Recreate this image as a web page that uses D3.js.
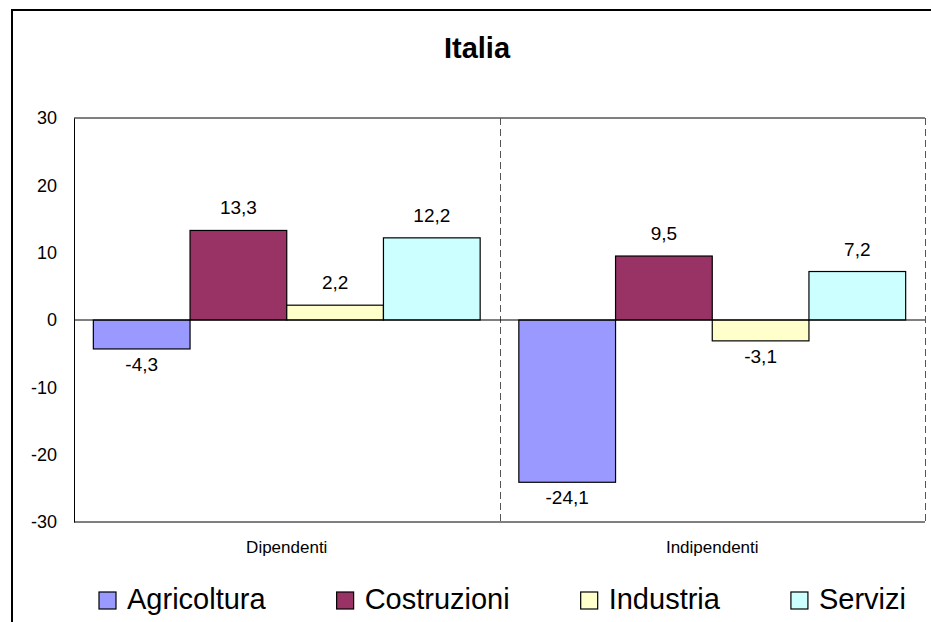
<!DOCTYPE html>
<html>
<head>
<meta charset="utf-8">
<title>Italia</title>
<script src="https://d3js.org/d3.v7.min.js"></script>
<style>
  body { margin: 0; background: #fff; }
  text { font-family: Arial, "Liberation Sans", sans-serif; fill: #000; }
</style>
</head>
<body>
<div id="chart"></div>
<script>
// dati
let categories = ["Dipendenti", "Indipendenti"]
let series = ["Agricoltura", "Costruzioni", "Industria", "Servizi"]
let agricoltura = [-4.3, -24.1]
let costruzioni = [13.3, 9.5]
let industria = [2.2, -3.1]
let servizi = [12.2, 7.2]
let yTicks = [-30, -20, -10, 0, 10, 20, 30]
let colors = ["#9999FF", "#993366", "#FFFFCC", "#CCFFFF"]

let values = [agricoltura, costruzioni, industria, servizi]

let W = 931, H = 622
let plot = {left: 74, right: 925, top: 118, bottom: 522}

// formato italiano con il trattino normale
let fmt = d => d.toFixed(1).replace(".", ",")

let svg = d3.select("#chart")
    .append("svg")
    .attr("width", W)
    .attr("height", H)

// bordo esterno
svg.append("rect")
    .attr("x", 12).attr("y", 10)
    .attr("width", 960).attr("height", 660)
    .attr("fill", "none")
    .attr("stroke", "#000")
    .attr("stroke-width", 2)

svg.append("text")
    .attr("x", 477)
    .attr("y", 58)
    .attr("text-anchor", "middle")
    .attr("font-size", "29px")
    .attr("font-weight", "bold")
    .text("Italia")

let x0 = d3.scaleBand()
    .domain(categories)
    .range([plot.left, plot.right])
    .padding(0)

let x1 = d3.scaleBand()
    .domain(series)
    .range([0, x0.bandwidth()])
    .paddingInner(0)
    .paddingOuter(0.2)

let y = d3.scaleLinear()
    .domain([-30, 30])
    .range([plot.bottom, plot.top])

// bordo area del grafico
svg.append("line")
    .attr("x1", plot.left).attr("x2", plot.right)
    .attr("y1", plot.top).attr("y2", plot.top)
    .attr("stroke", "#000")
svg.append("line")
    .attr("x1", plot.left).attr("x2", plot.right)
    .attr("y1", plot.bottom).attr("y2", plot.bottom)
    .attr("stroke", "#000")

// griglia verticale tratteggiata
let gridX = [x0(categories[1]), plot.right]
svg.selectAll(".vgrid")
    .data(gridX)
    .enter()
    .append("line")
    .attr("class", "vgrid")
    .attr("x1", d => Math.round(d) + 0.5).attr("x2", d => Math.round(d) + 0.5)
    .attr("y1", plot.top).attr("y2", plot.bottom)
    .attr("stroke", "#555")
    .attr("stroke-dasharray", "7,4")

// asse y
let yAxis = d3.axisLeft(y)
    .tickValues(yTicks)
    .tickSize(0)
    .tickPadding(17)
    .tickFormat(d => String(d))

let gy = svg.append("g")
    .attr("transform", "translate(" + plot.left + ",0)")
    .call(yAxis)
gy.select(".domain").attr("stroke", "#000")
gy.selectAll("text")
    .attr("font-size", "18px")
    .attr("font-family", "Arial, 'Liberation Sans', sans-serif")

// barre
let groups = svg.selectAll(".serie")
    .data(series)
    .enter()
    .append("g")
    .attr("class", "serie")

groups.each(function(s, i) {
    d3.select(this).selectAll("rect")
        .data(values[i])
        .enter()
        .append("rect")
        .attr("x", (d, j) => x0(categories[j]) + x1(s))
        .attr("y", d => y(Math.max(0, d)))
        .attr("width", x1.bandwidth())
        .attr("height", d => Math.abs(y(d) - y(0)))
        .attr("fill", colors[i])
        .attr("stroke", "#000")
        .attr("stroke-width", 1.2)

    d3.select(this).selectAll("text")
        .data(values[i])
        .enter()
        .append("text")
        .attr("x", (d, j) => x0(categories[j]) + x1(s) + x1.bandwidth() / 2)
        .attr("y", d => d >= 0 ? y(d) - 16 : y(d) + 22)
        .attr("text-anchor", "middle")
        .attr("font-size", "19px")
        .text(fmt)
})

// asse delle categorie sullo zero
svg.append("line")
    .attr("x1", plot.left).attr("x2", plot.right)
    .attr("y1", y(0)).attr("y2", y(0))
    .attr("stroke", "#000")

svg.selectAll(".cat")
    .data(categories)
    .enter()
    .append("text")
    .attr("class", "cat")
    .attr("x", d => x0(d) + x0.bandwidth() / 2)
    .attr("y", 553)
    .attr("text-anchor", "middle")
    .attr("font-size", "17px")
    .text(d => d)

// legenda
let legend = svg.append("g")
let items = legend.selectAll("g")
    .data(series)
    .enter()
    .append("g")

items.append("rect")
    .attr("width", 17).attr("height", 17)
    .attr("y", 592)
    .attr("fill", (d, i) => colors[i])
    .attr("stroke", "#000")
    .attr("stroke-width", 1.2)

items.append("text")
    .attr("x", 28)
    .attr("y", 609)
    .attr("font-size", "29px")
    .text(d => d)

let pos = 99
items.each(function() {
    let w = d3.select(this).select("text").node().getComputedTextLength() + 28
    d3.select(this).attr("transform", "translate(" + pos + ",0)")
    pos += w + 71
})
</script>
</body>
</html>
